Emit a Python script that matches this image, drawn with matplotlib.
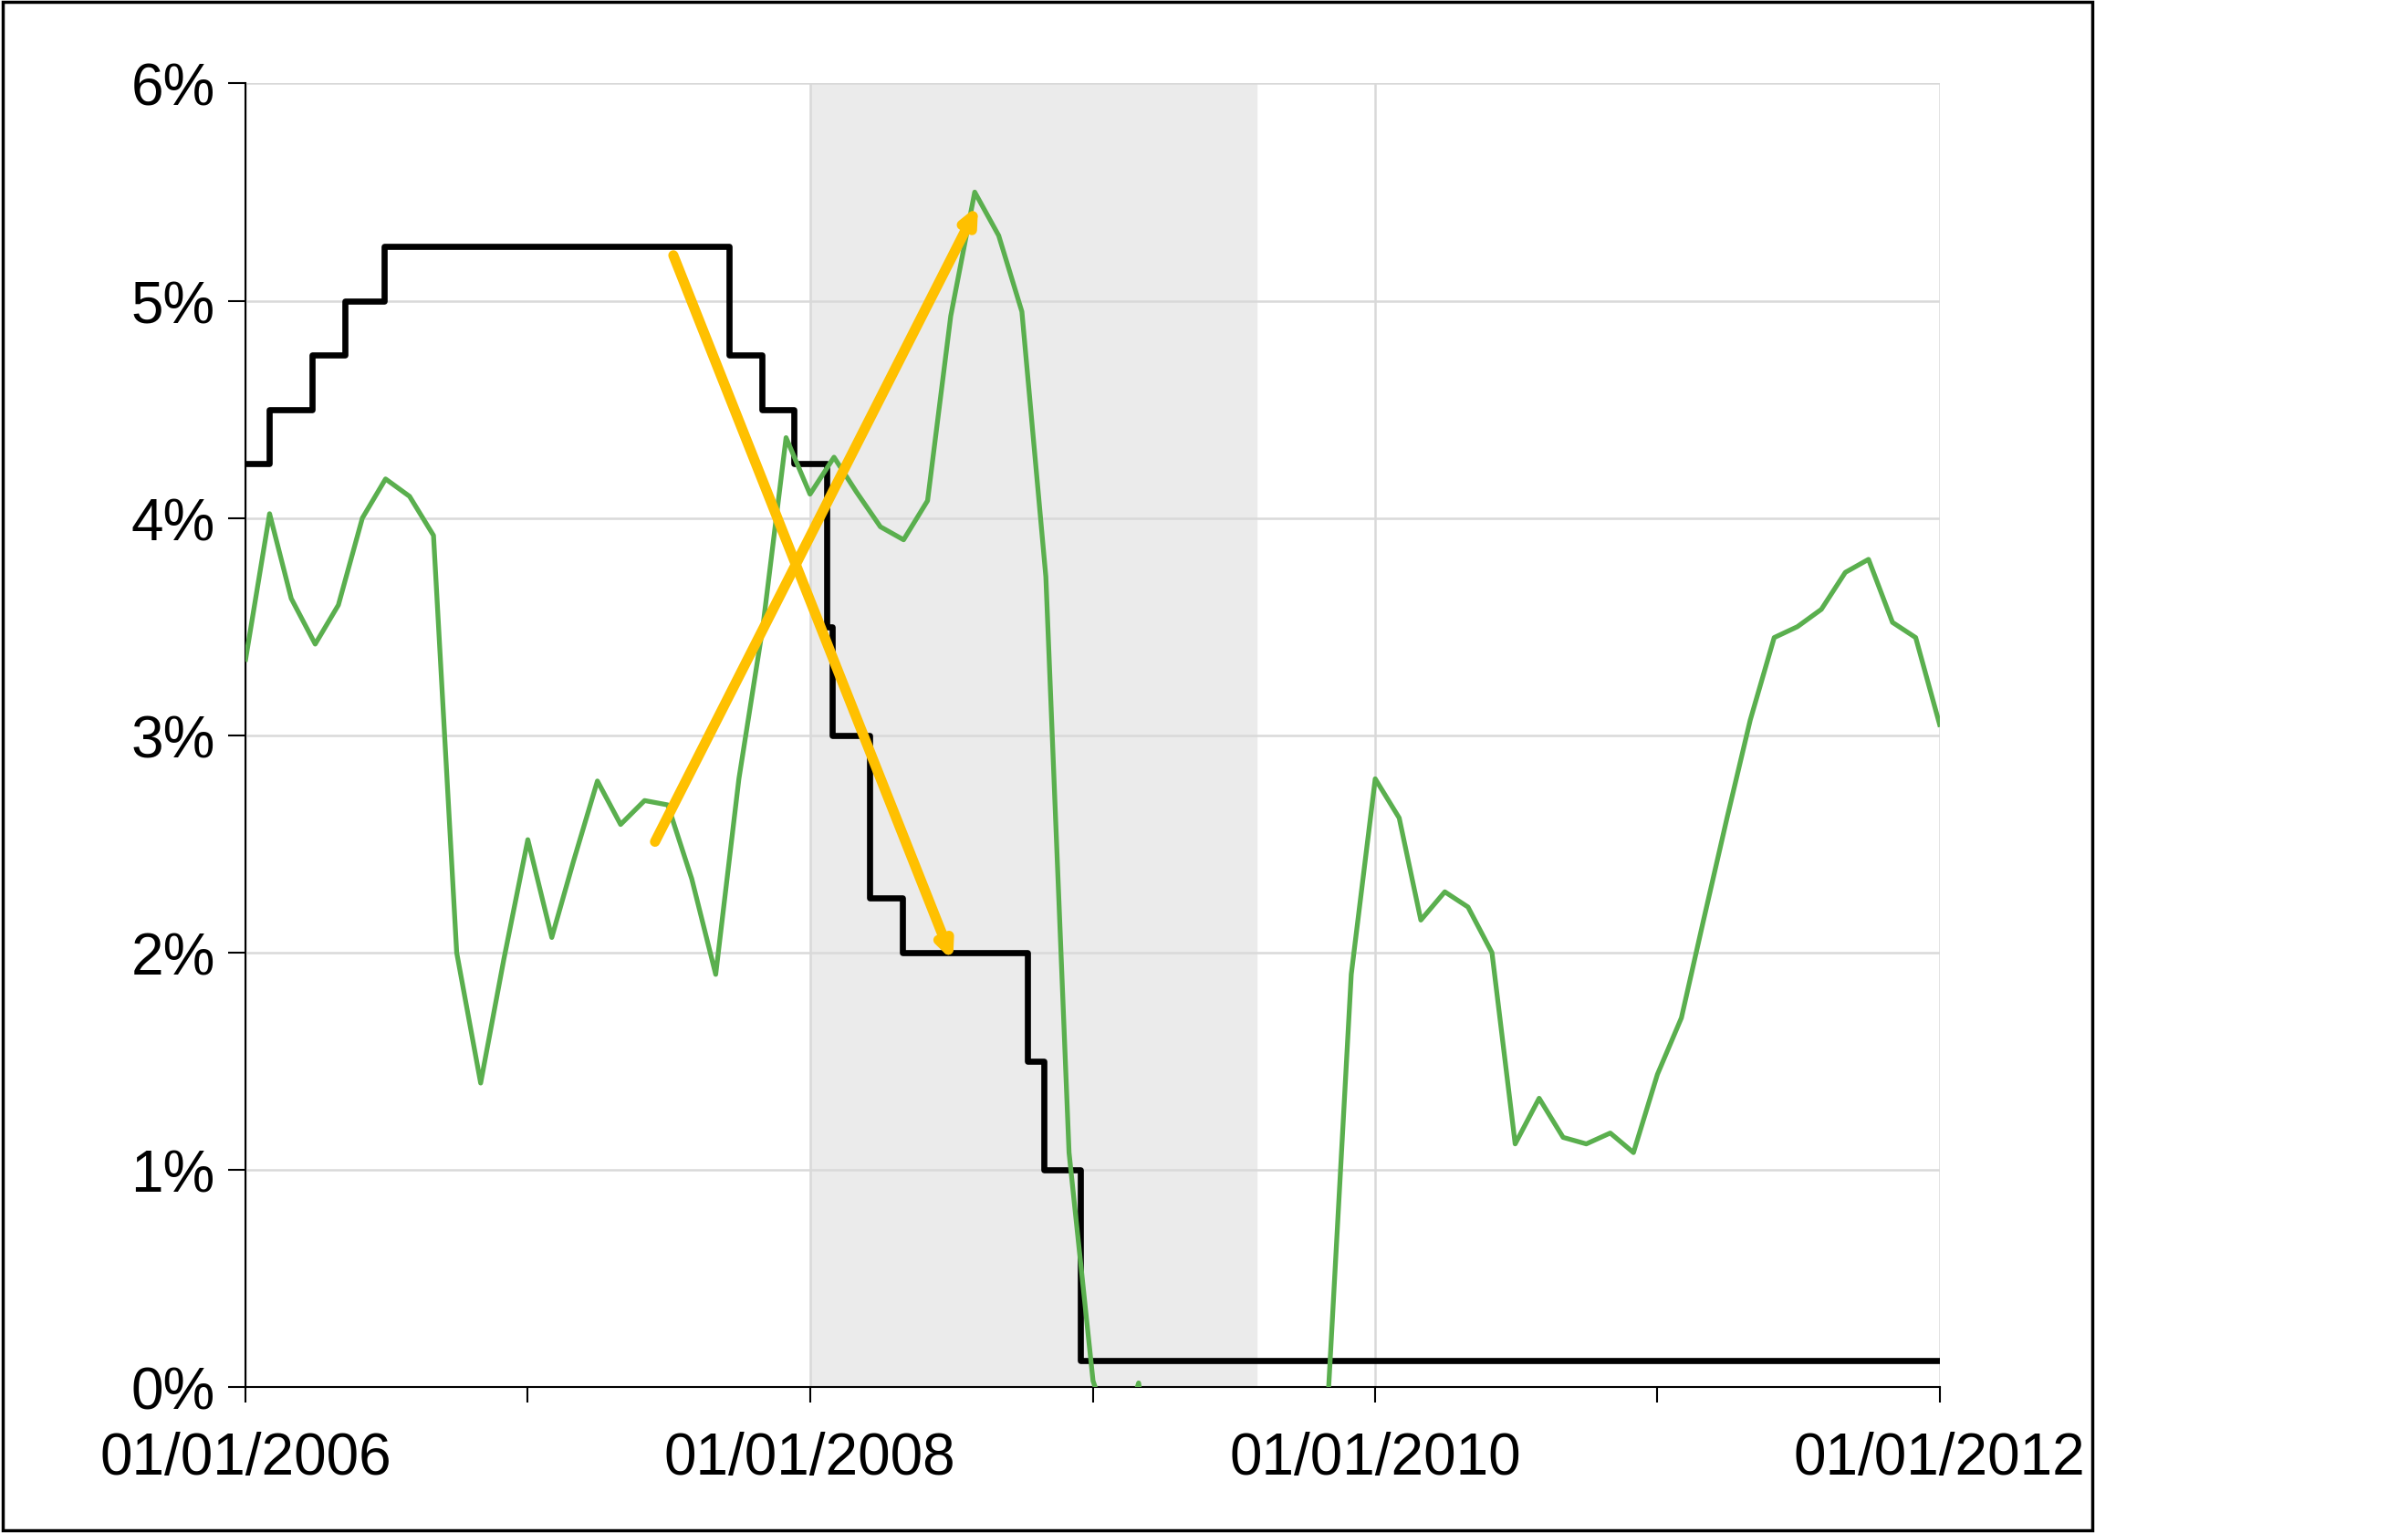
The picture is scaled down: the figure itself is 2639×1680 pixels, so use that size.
import datetime as dt

import matplotlib
matplotlib.use('Agg')
import matplotlib.pyplot as plt
import matplotlib.dates as mdates
from matplotlib.patches import Rectangle
from matplotlib.ticker import FuncFormatter

plt.rcParams['font.family'] = ['Liberation Sans', 'DejaVu Sans']

# Fed funds target rate (step changes)
rate_dates = ['2006-01-01', '2006-01-31', '2006-03-28', '2006-05-10', '2006-06-29',
              '2007-09-18', '2007-10-31', '2007-12-11', '2008-01-22', '2008-01-30',
              '2008-03-18', '2008-04-30', '2008-10-08', '2008-10-29', '2008-12-16',
              '2012-01-01']
rate_values = [4.25, 4.5, 4.75, 5.0, 5.25, 4.75, 4.5, 4.25, 3.5, 3.0,
               2.25, 2.0, 1.5, 1.0, 0.125, 0.125]

# monthly inflation, Jan 2006 .. Jan 2012
infl_values = [3.35, 4.02, 3.63, 3.42, 3.6, 4.0, 4.18, 4.1, 3.92, 2.0, 1.4, 1.97,
               2.52, 2.07, 2.42, 2.79, 2.59, 2.7, 2.68, 2.34, 1.9, 2.8, 3.5, 4.37,
               4.11, 4.28, 4.12, 3.96, 3.9, 4.08, 4.93, 5.5, 5.3, 4.95, 3.73, 1.08,
               0.03, -0.3, 0.02, -0.74, -1.28, -1.43, -2.1, -1.48, -1.29, -0.6,
               -0.05, 1.9, 2.8, 2.62, 2.15, 2.28, 2.21, 2.0, 1.12, 1.33, 1.15, 1.12,
               1.17, 1.08, 1.44, 1.7, 2.14, 2.62, 3.07, 3.45, 3.5, 3.58, 3.75, 3.81,
               3.52, 3.45, 3.05]
infl_dates = [dt.date(2006 + i // 12, i % 12 + 1, 1) for i in range(len(infl_values))]

recession = ('2008-01-01', '2009-07-31')
arrows = [(('2007-07-07', 5.22), ('2008-07-05', 1.95)),
          (('2007-06-13', 2.5), ('2008-08-07', 5.45))]


def d(s):
    return mdates.datestr2num(s)


fig = plt.figure(figsize=(26.39, 16.81), dpi=100)
ax = fig.add_axes([0.102, 0.095, 0.7035, 0.85])

ax.axvspan(d(recession[0]), d(recession[1]), color='#ebebeb', zorder=0)

rd = [d(s) for s in rate_dates]
ax.step(rd, rate_values, where='post', color='black', lw=4.8, zorder=3)
ax.plot(infl_dates, infl_values, color='#5aaf4e', lw=3.8, zorder=4)

for (s0, y0), (s1, y1) in arrows:
    ax.annotate('', xy=(d(s1), y1), xytext=(d(s0), y0),
                arrowprops=dict(arrowstyle='-|>,head_length=1.0,head_width=0.45',
                                color='#ffc000', lw=8), zorder=5)

ax.set_xlim(d('2006-01-01'), d('2012-01-01'))
ax.set_ylim(0, 6)
ax.yaxis.set_major_formatter(FuncFormatter(lambda v, p: f'{v:.0f}%'))
ax.set_yticks(range(7))
ax.xaxis.set_major_locator(mdates.YearLocator(2))
ax.xaxis.set_minor_locator(mdates.YearLocator(1))
ax.xaxis.set_major_formatter(mdates.DateFormatter('%d/%m/%Y'))

ax.grid(True, which='major', color='#d9d9d9', lw=1.8, zorder=1)
ax.set_axisbelow(True)
for s in ['top', 'right']:
    ax.spines[s].set_visible(False)
for s in ['left', 'bottom']:
    ax.spines[s].set_linewidth(1.5)
ax.tick_params(axis='both', which='both', direction='out', length=12, width=1.5,
               labelsize=46, pad=10)
ax.tick_params(axis='x', pad=22)
ax.tick_params(axis='y', length=14)

fig.patches.append(Rectangle((0.001, 0.002), 0.868, 0.996, transform=fig.transFigure,
                             fill=False, ec='black', lw=2.5))

fig.savefig('out.png', dpi=100)
